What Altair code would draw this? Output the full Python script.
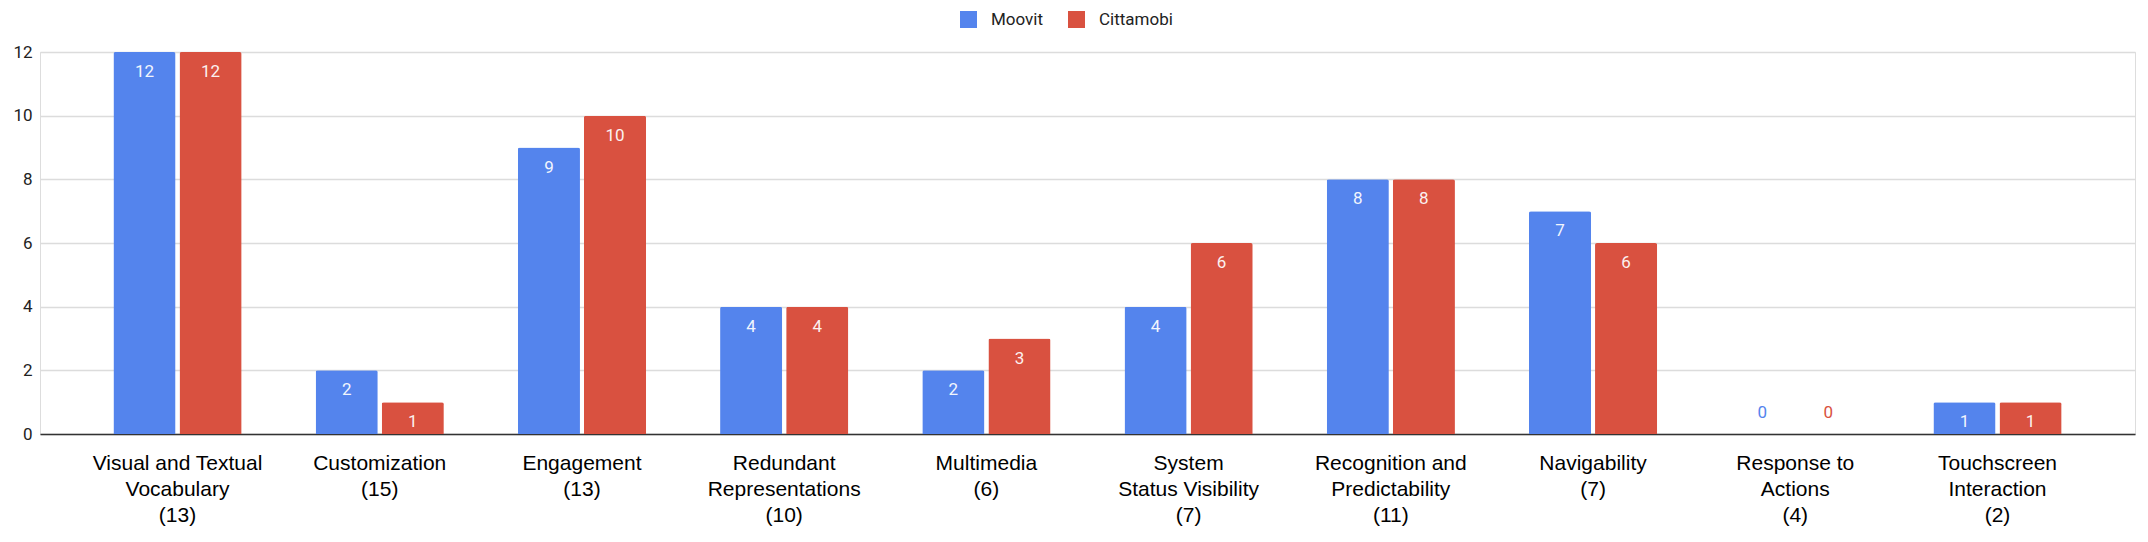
import altair as alt
import pandas as pd

categories = [
    "Visual and Textual|Vocabulary|(13)",
    "Customization|(15)",
    "Engagement|(13)",
    "Redundant|Representations|(10)",
    "Multimedia|(6)",
    "System|Status Visibility|(7)",
    "Recognition and|Predictability|(11)",
    "Navigability|(7)",
    "Response to|Actions|(4)",
    "Touchscreen|Interaction|(2)",
]
series = ["Moovit", "Cittamobi"]
moovit = [12, 2, 9, 4, 2, 4, 8, 7, 0, 1]
cittamobi = [12, 1, 10, 4, 3, 6, 8, 6, 0, 1]
colors = ["#5484ED", "#D95140"]

rows = []
for c, m, t in zip(categories, moovit, cittamobi):
    rows.append({"category": c, "app": "Moovit", "value": m})
    rows.append({"category": c, "app": "Cittamobi", "value": t})
df = pd.DataFrame(rows)

x_enc = alt.X(
    "category:N",
    sort=categories,
    title=None,
    scale=alt.Scale(paddingInner=0, paddingOuter=0.18),
    axis=alt.Axis(
        labelExpr="split(datum.value, '|')",
        labelAngle=0,
        labelFont="Liberation Sans",
        labelFontSize=21,
        labelColor="#000000",
        labelLineHeight=26,
        labelPadding=18,
        labelBaseline="top",
        ticks=False,
        domain=True,
        domainColor="#333333",
        domainWidth=1.5,
        grid=False,
        labelLimit=400,
    ),
)
xoff = alt.XOffset(
    "app:N",
    sort=series,
    scale=alt.Scale(paddingInner=0.06, paddingOuter=0.56),
)
y_enc = alt.Y(
    "value:Q",
    title=None,
    scale=alt.Scale(domain=[0, 12], nice=False),
    axis=alt.Axis(
        values=[0, 2, 4, 6, 8, 10, 12],
        labelFont="Roboto",
        labelFontSize=17,
        labelColor="#222222",
        labelPadding=8,
        ticks=False,
        domain=False,
        gridColor="#dcdcdc",
        gridWidth=1.5,
    ),
)
color_enc = alt.Color(
    "app:N",
    sort=series,
    scale=alt.Scale(domain=series, range=colors),
    legend=alt.Legend(
        title=None,
        orient="none",
        legendX=920,
        legendY=-41,
        direction="horizontal",
        symbolType="square",
        symbolSize=289,
        symbolStrokeWidth=0,
        labelFont="Roboto",
        labelFontSize=17,
        labelColor="#222222",
        labelOffset=14,
        columnPadding=24,
        padding=0,
    ),
)

base = alt.Chart(df)

bars = base.mark_bar(cornerRadiusTopLeft=2, cornerRadiusTopRight=2).encode(
    x=x_enc, xOffset=xoff, y=y_enc, color=color_enc
)

labels_in = base.transform_filter("datum.value > 0").mark_text(
    font="Roboto", fontSize=17, color="#ffffff", opacity=0.92, baseline="alphabetic", dy=25
).encode(
    x=alt.X("category:N", sort=categories),
    xOffset=alt.XOffset("app:N", sort=series),
    y="value:Q",
    text="value:Q",
)

labels_zero = base.transform_filter("datum.value == 0").mark_text(
    font="Roboto", fontSize=17, baseline="alphabetic", dy=-16
).encode(
    x=alt.X("category:N", sort=categories),
    xOffset=alt.XOffset("app:N", sort=series),
    y="value:Q",
    text="value:Q",
    color=alt.Color("app:N", sort=series, scale=alt.Scale(domain=series, range=colors), legend=None),
)

chart = (
    alt.layer(bars, labels_in, labels_zero)
    .properties(
        width=2095,
        height=382,
        autosize=alt.AutoSizeParams(type="none"),
        padding={"left": 32, "top": 44, "right": 5, "bottom": 100},
    )
    .configure_view(stroke=None)
    .configure(background="#ffffff")
)

chart.save("out.html", embed_options={"renderer": "svg", "actions": False})
